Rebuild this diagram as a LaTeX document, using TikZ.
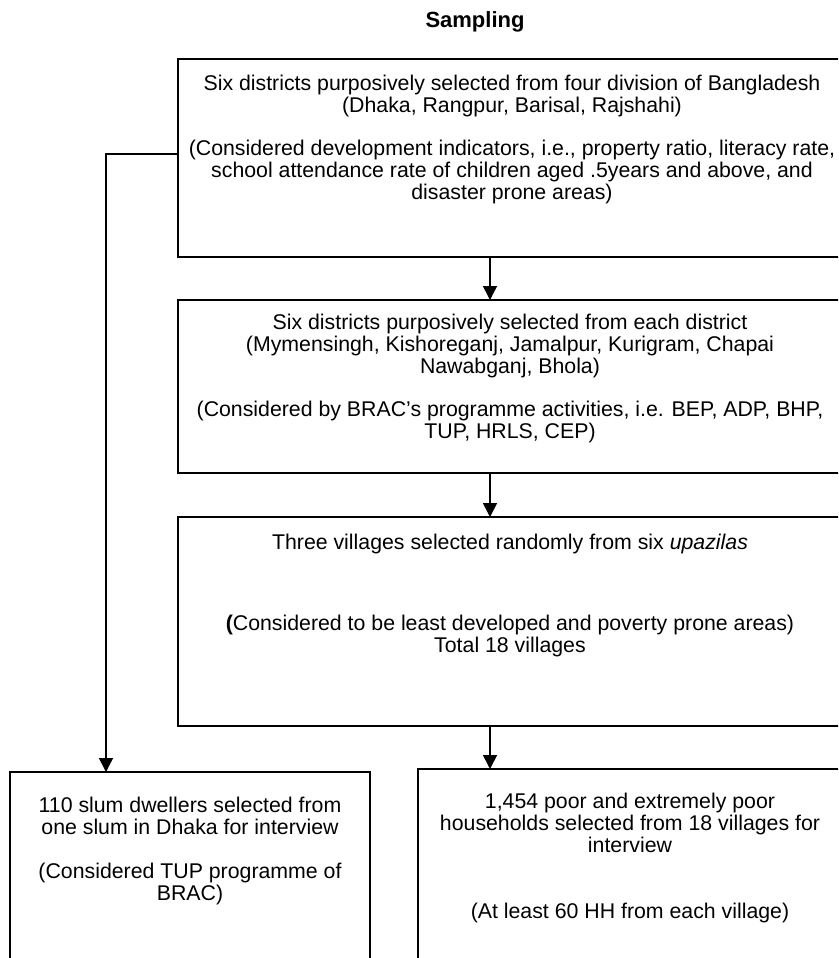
\documentclass[tikz,border=0pt]{standalone}
\usepackage{fontspec}
\setmainfont{Liberation Sans}
\usetikzlibrary{arrows.meta}
\begin{document}
\begin{tikzpicture}[x=1pt,y=1pt,
  boxnode/.style={draw=black, line width=2pt, inner sep=0pt, outer sep=0pt},
  txt/.style={align=center, inner sep=0pt, anchor=north, font=\fontsize{21.3}{22}\selectfont},
  conn/.style={draw=black, line width=1.6pt, -{Triangle[length=14pt,width=14pt]}}]
\clip (0,0) rectangle (838,-958);
\fill[white] (0,0) rectangle (838,-958);
% title
\node[anchor=base, inner sep=0pt, font=\fontsize{22}{24}\selectfont\bfseries] (title) at (475,-28) {Sampling};
% boxes
\node[boxnode, minimum width=664pt, minimum height=198pt] (b1) at (510,-158) {};
\node[boxnode, minimum width=664pt, minimum height=173pt] (b2) at (510,-386.5) {};
\node[boxnode, minimum width=664pt, minimum height=209pt] (b3) at (510,-621.5) {};
\node[boxnode, minimum width=360pt, minimum height=198pt] (b4) at (190,-871) {};
\node[boxnode, minimum width=424pt, minimum height=201pt] (b5) at (630,-869.5) {};
% texts
\node[txt] (t1) at (512,-74.6) {Six districts purposively selected from four division of Bangladesh\\(Dhaka, Rangpur, Barisal, Rajshahi)\\[21pt](Considered development indicators, i.e., property ratio, literacy rate,\\school attendance rate of children aged .5years and above, and\\disaster prone areas)};
\node[txt] (t2) at (510,-313.6) {Six districts purposively selected from each district\\(Mymensingh, Kishoreganj, Jamalpur, Kurigram, Chapai\\Nawabganj, Bhola)\\[21pt](Considered by BRAC’s programme activities, i.e. BEP, ADP, BHP,\\TUP, HRLS, CEP)};
\node[txt] (t3) at (510,-533.6) {Three villages selected randomly from six \textit{upazilas}\\[59pt]\textbf{(}Considered to be least developed and poverty prone areas)\\Total 18 villages};
\node[txt] (t4) at (190,-796.6) {110 slum dwellers selected from\\one slum in Dhaka for interview\\[22pt](Considered TUP programme of\\BRAC)};
\node[txt] (t5) at (630,-792.6) {1,454 poor and extremely poor\\households selected from 18 villages for\\interview\\[44pt](At least 60 HH from each village)};
% connectors
\coordinate (ax) at (490,0);
\coordinate (lc) at (106,-154);
\draw[conn] (b1.south -| ax) -- (b2.north -| ax);
\draw[conn] (b2.south -| ax) -- (b3.north -| ax);
\draw[conn] (b3.south -| ax) -- (b5.north -| ax);
\draw[conn] (b1.west |- lc) -| (b4.north -| lc);
\end{tikzpicture}
\end{document}
